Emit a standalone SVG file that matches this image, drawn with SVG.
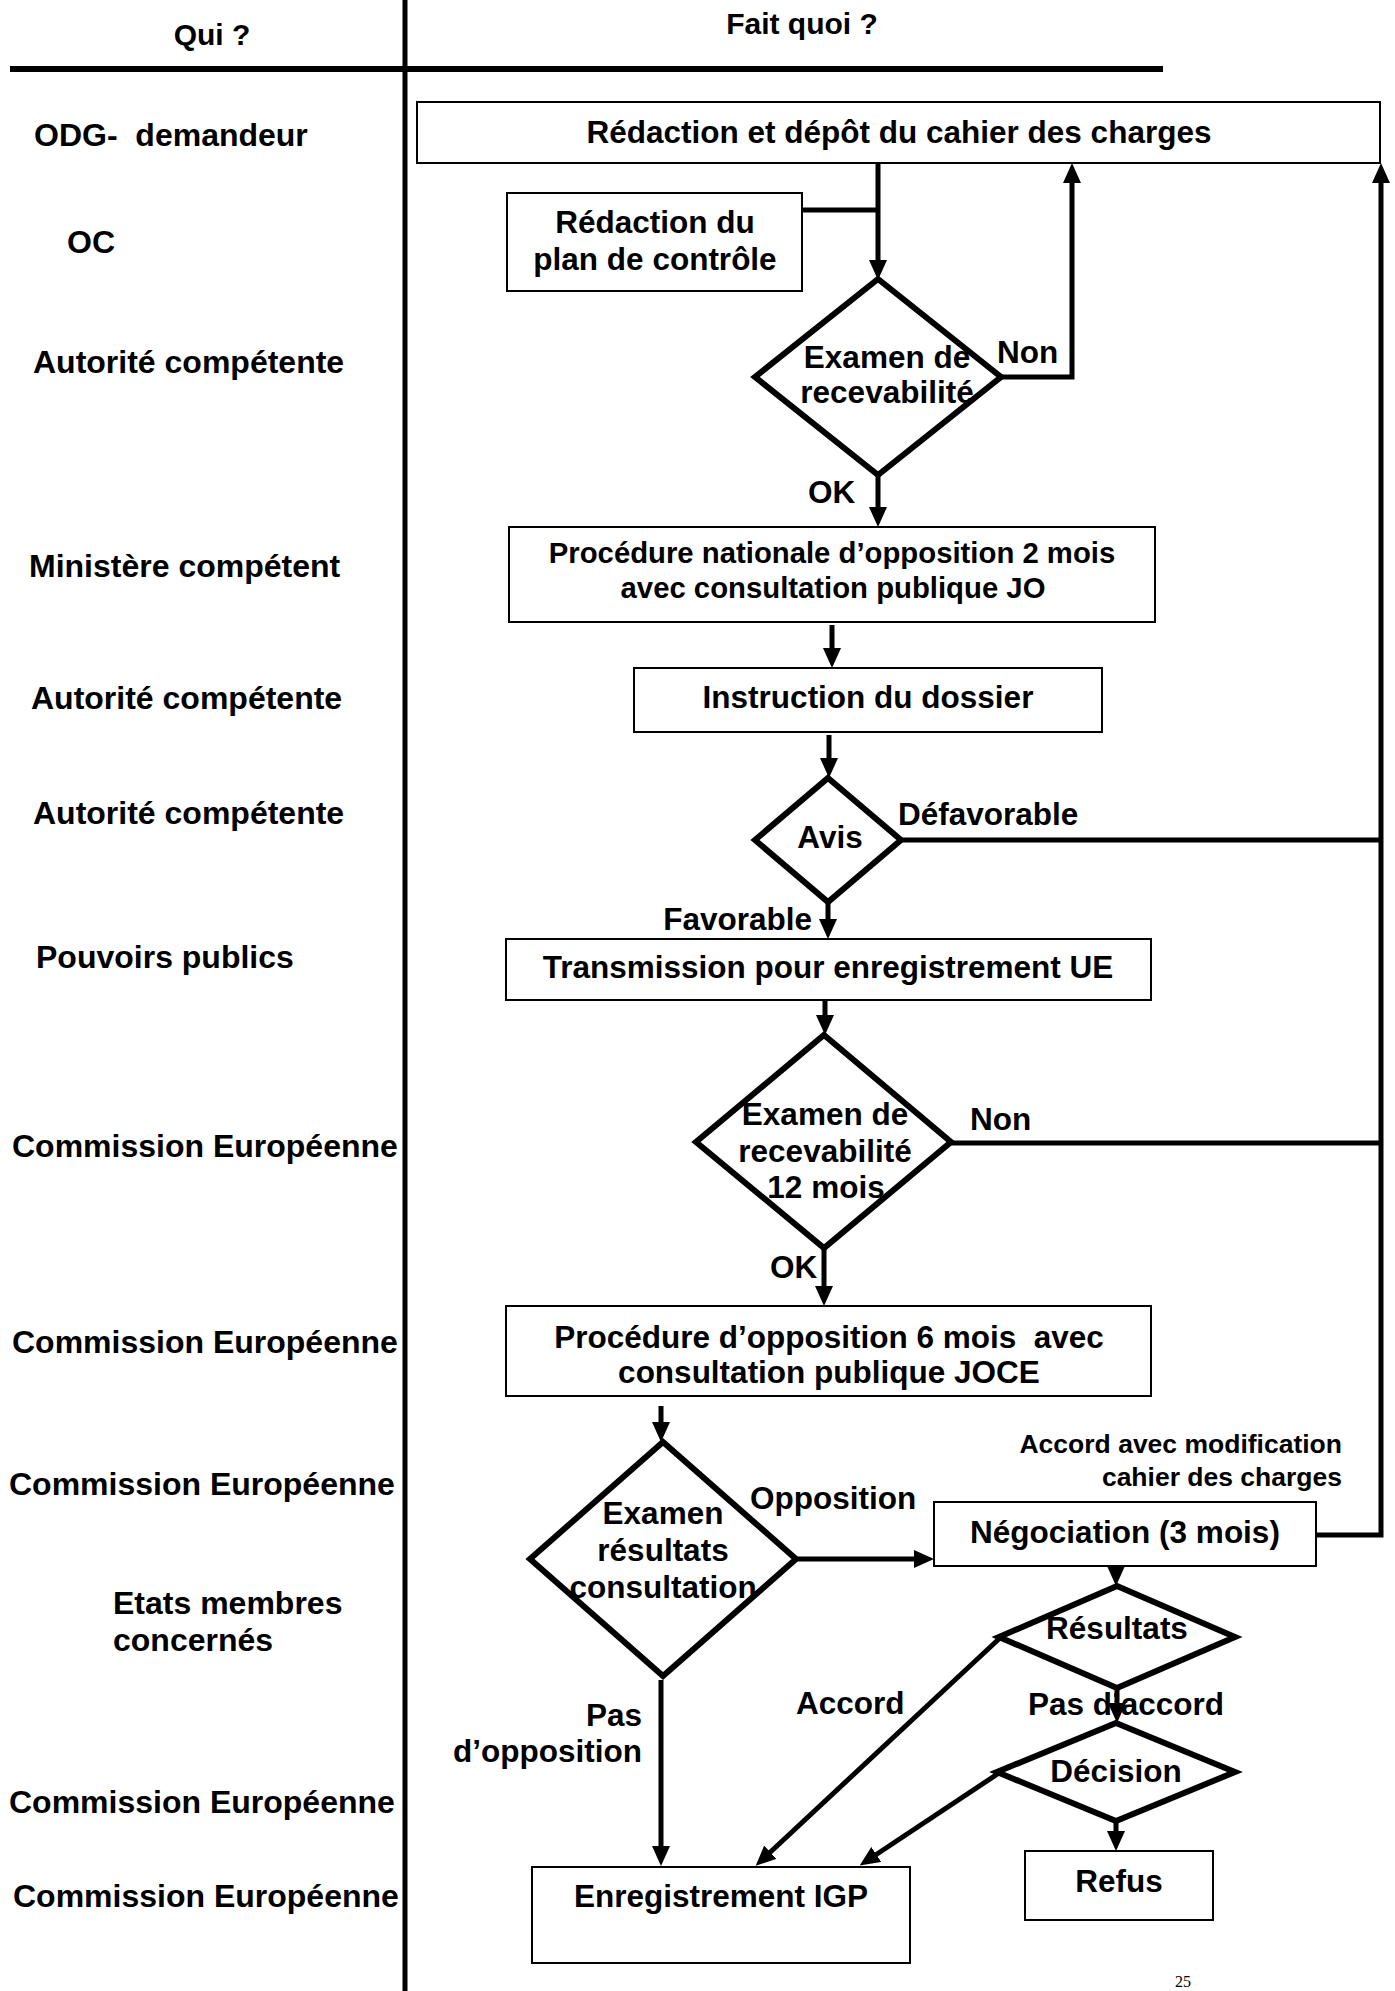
<svg xmlns="http://www.w3.org/2000/svg" width="1395" height="1991" viewBox="0 0 1395 1991">
<style>
text{font-family:"Liberation Sans",Arial,sans-serif;font-weight:bold;fill:#000}
.who{font-size:32px;white-space:pre}
.t{font-size:31.5px;text-anchor:middle}
.l{font-size:31.5px}
.s{font-size:29.3px;text-anchor:middle;white-space:pre}
.box{fill:#fff;stroke:#000;stroke-width:2}
.dia{fill:#fff;stroke:#000;stroke-width:6;stroke-linejoin:miter}
.c{fill:none;stroke:#000;stroke-width:5}
.ca{fill:none;stroke:#000;stroke-width:5;marker-end:url(#ah)}
</style>
<defs>
<marker id="ah" markerUnits="userSpaceOnUse" markerWidth="20" markerHeight="18" refX="10" refY="9" orient="auto">
<path d="M0,0 L20,9 L0,18 z" fill="#000"/>
</marker>
</defs>
<rect width="1395" height="1991" fill="#fff"/>
<g id="frame">
<line x1="10" y1="69" x2="1163" y2="69" stroke="#000" stroke-width="6"/>
<line x1="405" y1="0" x2="405" y2="1991" stroke="#000" stroke-width="5"/>
<text x="212" y="45" style="font-size:30px;text-anchor:middle">Qui ?</text>
<text x="802" y="34" style="font-size:30px;text-anchor:middle">Fait quoi ?</text>
</g>
<g id="who">
<text class="who" x="34" y="146">ODG-  demandeur</text>
<text class="who" x="67" y="253">OC</text>
<text class="who" x="33" y="373">Autorité compétente</text>
<text class="who" x="29" y="577">Ministère compétent</text>
<text class="who" x="31" y="709">Autorité compétente</text>
<text class="who" x="33" y="824">Autorité compétente</text>
<text class="who" x="36" y="968">Pouvoirs publics</text>
<text class="who" x="12" y="1157">Commission Européenne</text>
<text class="who" x="12" y="1353">Commission Européenne</text>
<text class="who" x="9" y="1495">Commission Européenne</text>
<text class="who" x="113" y="1614">Etats membres</text>
<text class="who" x="113" y="1651">concernés</text>
<text class="who" x="9" y="1813">Commission Européenne</text>
<text class="who" x="13" y="1907">Commission Européenne</text>
</g>
<g id="n-redaction-depot">
<rect class="box" x="417" y="102" width="963" height="61"/>
<text class="t" x="899" y="143">Rédaction et dépôt du cahier des charges</text>
</g>
<g id="n-plan-controle">
<rect class="box" x="507" y="193" width="295" height="98"/>
<text class="t" x="655" y="233">Rédaction du</text>
<text class="t" x="655" y="270">plan de contrôle</text>
</g>
<g id="n-examen1">
<polygon class="dia" points="878,279 1001,377 878,475 755,377"/>
<text class="t" x="887" y="368">Examen de</text>
<text class="t" x="887" y="403">recevabilité</text>
</g>
<g id="n-proc-nat">
<rect class="box" x="509" y="527" width="646" height="95"/>
<text class="s" x="832" y="563">Procédure nationale d’opposition 2 mois</text>
<text class="s" x="833" y="598">avec consultation publique JO</text>
</g>
<g id="n-instruction">
<rect class="box" x="634" y="668" width="468" height="64"/>
<text class="t" x="868" y="708">Instruction du dossier</text>
</g>
<g id="n-avis">
<polygon class="dia" points="828,778 901,840 828,902 755,840"/>
<text class="t" x="830" y="848">Avis</text>
</g>
<g id="n-transmission">
<rect class="box" x="506" y="939" width="645" height="61"/>
<text class="t" x="828" y="978">Transmission pour enregistrement UE</text>
</g>
<g id="n-examen2">
<polygon class="dia" points="824,1035 951,1142 824,1248 696,1142"/>
<text class="t" x="825" y="1125">Examen de</text>
<text class="t" x="825" y="1162">recevabilité</text>
<text class="t" x="826" y="1198">12 mois</text>
</g>
<g id="n-proc-ue">
<rect class="box" x="506" y="1306" width="645" height="90"/>
<text class="t" x="829" y="1348" style="white-space:pre">Procédure d’opposition 6 mois  avec</text>
<text class="t" x="829" y="1383">consultation publique JOCE</text>
</g>
<g id="n-examen-resultats">
<polygon class="dia" points="663,1442 796,1559 663,1676 530,1559"/>
<text class="t" x="663" y="1524">Examen</text>
<text class="t" x="663" y="1561">résultats</text>
<text class="t" x="663" y="1598">consultation</text>
</g>
<g id="n-negociation">
<rect class="box" x="934" y="1502" width="382" height="64"/>
<text class="t" x="1125" y="1543">Négociation (3 mois)</text>
</g>
<g id="n-resultats">
<polygon class="dia" points="1117,1586 1235,1637 1117,1688 999,1637"/>
<text class="t" x="1117" y="1639">Résultats</text>
</g>
<g id="n-decision">
<polygon class="dia" points="1116,1723 1235,1772 1116,1821 997,1772"/>
<text class="t" x="1116" y="1782">Décision</text>
</g>
<g id="n-igp">
<rect class="box" x="532" y="1867" width="378" height="96"/>
<text class="t" x="721" y="1907">Enregistrement IGP</text>
</g>
<g id="n-refus">
<rect class="box" x="1025" y="1851" width="188" height="69"/>
<text class="t" x="1119" y="1892">Refus</text>
</g>
<g id="labels">
<text class="l" x="997" y="363">Non</text>
<text class="l" x="808" y="503">OK</text>
<text class="l" x="898" y="825">Défavorable</text>
<text class="l" x="812" y="930" style="text-anchor:end">Favorable</text>
<text class="l" x="970" y="1130">Non</text>
<text class="l" x="770" y="1278">OK</text>
<text class="l" x="750" y="1509">Opposition</text>
<text x="1342" y="1453" style="font-size:26.5px;text-anchor:end">Accord avec modification</text>
<text x="1342" y="1486" style="font-size:26.5px;text-anchor:end">cahier des charges</text>
<text class="l" x="1028" y="1715">Pas d’accord</text>
<text class="l" x="796" y="1714">Accord</text>
<text class="l" x="642" y="1726" style="text-anchor:end">Pas</text>
<text class="l" x="642" y="1762" style="text-anchor:end">d’opposition</text>
<text x="1175" y="1987" style="font-family:'Liberation Serif',serif;font-weight:normal;font-size:16px">25</text>
</g>
<g id="connectors">
<line class="ca" x1="878" y1="163" x2="878" y2="270"/>
<line class="c" x1="802" y1="210" x2="880" y2="210"/>
<polyline class="ca" points="1001,377 1072,377 1072,173"/>
<line class="ca" x1="878" y1="475" x2="878" y2="517"/>
<line class="ca" x1="832" y1="625" x2="832" y2="658"/>
<line class="ca" x1="829" y1="735" x2="829" y2="768"/>
<line class="ca" x1="828" y1="902" x2="828" y2="929"/>
<line class="c" x1="901" y1="840" x2="1383" y2="840"/>
<line class="ca" x1="825" y1="1000" x2="825" y2="1025"/>
<line class="c" x1="951" y1="1143" x2="1383" y2="1143"/>
<line class="ca" x1="824" y1="1248" x2="824" y2="1296"/>
<line class="ca" x1="661" y1="1406" x2="661" y2="1432"/>
<line class="ca" x1="796" y1="1559" x2="924" y2="1559"/>
<polyline class="ca" points="1316,1535 1381,1535 1381,173"/>
<line class="ca" x1="1116" y1="1566" x2="1116" y2="1576"/>
<line class="ca" x1="1117" y1="1688" x2="1117" y2="1713"/>
<line class="ca" x1="1116" y1="1821" x2="1116" y2="1841"/>
<line class="ca" x1="1001" y1="1637" x2="763" y2="1859"/>
<line class="ca" x1="999" y1="1773" x2="868" y2="1860"/>
<line class="ca" x1="661" y1="1680" x2="661" y2="1856"/>
</g>
</svg>
